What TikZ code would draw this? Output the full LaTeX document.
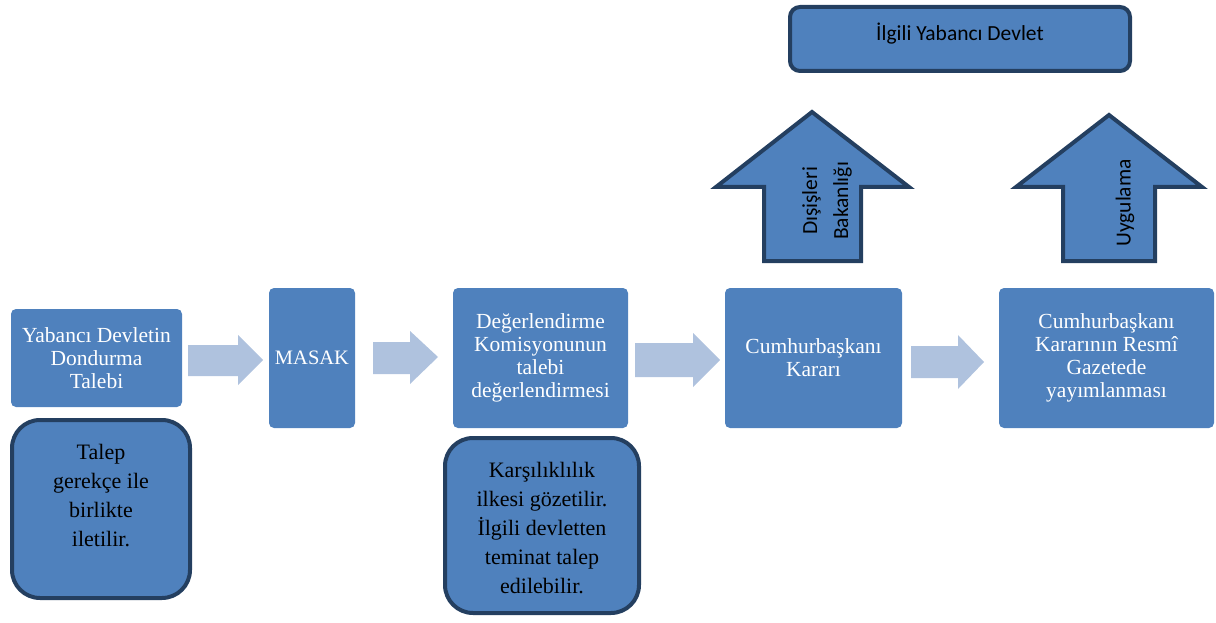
\documentclass[tikz,border=0pt]{standalone}
\usepackage{fontspec}
\setmainfont{Liberation Serif}
\newfontfamily\calfont{Carlito}
\definecolor{boxblue}{HTML}{4F81BD}
\definecolor{edgeblue}{HTML}{243F60}
\definecolor{pale}{HTML}{AFC2DE}
\tikzset{
  stepbox/.style={fill=boxblue, rounded corners=5pt, text=white, align=center,
    font=\fontsize{21.5}{23}\selectfont, inner sep=0pt},
  notebox/.style={fill=boxblue, draw=edgeblue, line width=4pt, rounded corners=28pt, inner sep=0pt},
  notetext/.style={text=black, align=center, font=\fontsize{22}{29}\selectfont, inner sep=0pt},
  flow/.style={fill=pale},
  uparrow/.style={fill=boxblue, draw=edgeblue, line width=4pt, line join=miter},
  sidetext/.style={text=black, align=center, font=\calfont\fontsize{21.5}{31}\selectfont, inner sep=0pt}
}
\begin{document}
\begin{tikzpicture}[x=1pt,y=-1pt]
\useasboundingbox (0,0) rectangle (1216,623);
% main step boxes
\node[stepbox, minimum width=171pt, minimum height=98pt] (b1) at (96.5,358) {Yabancı Devletin\\Dondurma\\Talebi};
\node[stepbox, minimum width=86pt, minimum height=140pt, font=\fontsize{20.5}{23}\selectfont] (b2) at (312,358) {MASAK};
\node[stepbox, minimum width=175pt, minimum height=140pt] (b3) at (540.5,358) {Değerlendirme\\Komisyonunun\\talebi\\değerlendirmesi};
\node[stepbox, minimum width=177pt, minimum height=140pt] (b4) at (813.5,358) {Cumhurbaşkanı\\Kararı};
\node[stepbox, minimum width=215pt, minimum height=140pt] (b5) at (1106.5,358) {Cumhurbaşkanı\\Kararının Resmî\\Gazetede\\yayımlanması};
% flow arrows
\fill[flow] (188,345) -- (238,345) -- (238,335) -- (263,360) -- (238,385) -- (238,376) -- (188,376) -- cycle;
\fill[flow] (373,342) -- (410,342) -- (410,331) -- (438,357) -- (410,384) -- (410,374) -- (373,374) -- cycle;
\fill[flow] (635,343) -- (693,343) -- (693,333) -- (720,360) -- (693,387) -- (693,377) -- (635,377) -- cycle;
\fill[flow] (911,346) -- (958,346) -- (958,335) -- (984,362) -- (958,389) -- (958,378) -- (911,378) -- cycle;
% note boxes
\node[notebox, minimum width=178pt, minimum height=178pt] (n1) at (101,509) {};
\node[notetext] (t1) at (101,495.5) {Talep\\gerekçe ile\\birlikte\\iletilir.};
\node[notebox, minimum width=194pt, minimum height=175pt] (n2) at (542,525.5) {};
\node[notetext] (t2) at (542,528) {Karşılıklılık\\ilkesi gözetilir.\\İlgili devletten\\teminat talep\\edilebilir.};
% top box
\node[fill=boxblue, draw=edgeblue, line width=4pt, rounded corners=10pt, minimum width=340pt, minimum height=64pt, inner sep=0pt] (top) at (960,39) {};
\node[sidetext] (toptext) at (960,34) {İlgili Yabancı Devlet};
% up arrows
\draw[uparrow] (764,261) -- (764,187) -- (716,187) -- (812,112) -- (909,187) -- (861,187) -- (861,261) -- cycle;
\node[sidetext, rotate=90] (dis) at (827,201) {Dışişleri\\Bakanlığı};
\draw[uparrow] (1063,261) -- (1063,187) -- (1016,187) -- (1109,115) -- (1202,187) -- (1155,187) -- (1155,261) -- cycle;
\node[sidetext, rotate=90] (uyg) at (1125,203) {Uygulama};
\end{tikzpicture}
\end{document}
